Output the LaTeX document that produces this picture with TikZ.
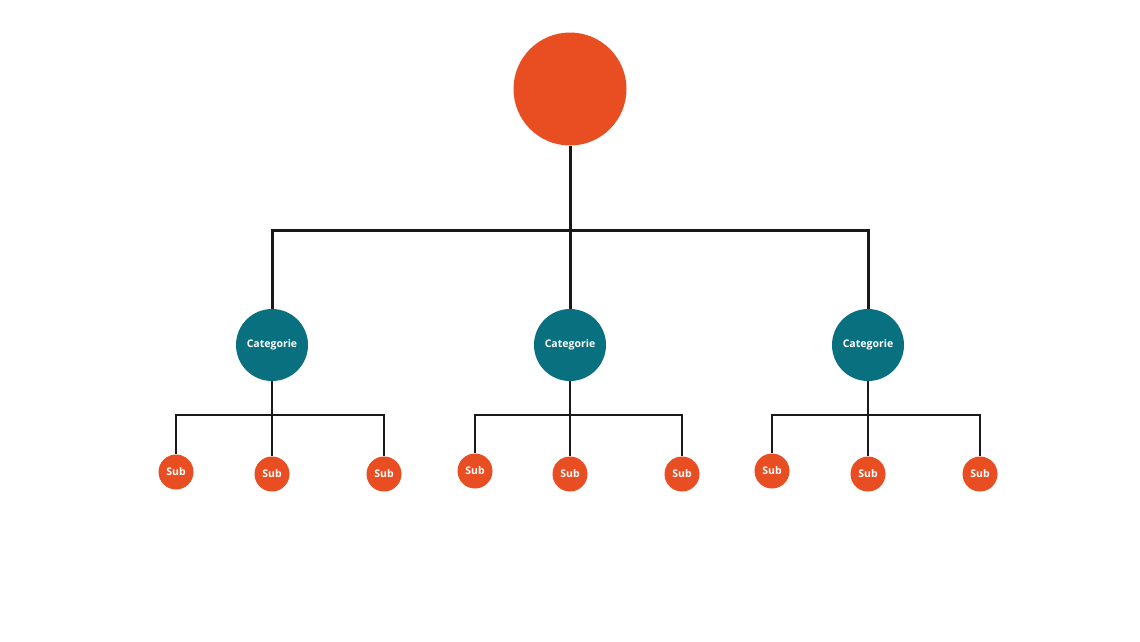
\documentclass[tikz,border=0pt]{standalone}
\usepackage{fontspec}
\setmainfont{Open Sans}
\definecolor{rootorange}{HTML}{E84E22}
\definecolor{catteal}{HTML}{08707F}
\begin{document}
\begin{tikzpicture}[x=1pt,y=-1pt,
  rootnode/.style={circle,fill=rootorange,minimum size=113pt,inner sep=0pt},
  catnode/.style={circle,fill=catteal,minimum size=72pt,inner sep=0pt,text=white,font=\bfseries\fontsize{10.5}{12}\selectfont},
  subnode/.style={circle,fill=rootorange,minimum size=35pt,inner sep=0pt,text=white,font=\bfseries\fontsize{10.5}{12}\selectfont},
  mainline/.style={draw=black!90,line width=3pt},
  subline/.style={draw=black!90,line width=2pt}]
\useasboundingbox (0,0) rectangle (1140,641);
\node[rootnode] (root) at (570,89) {};
\node[catnode] (c1) at (272,345) {Categorie};
\node[catnode] (c2) at (570,345) {Categorie};
\node[catnode] (c3) at (868,345) {Categorie};
\node[subnode] (s11) at (176,472) {Sub};
\node[subnode] (s12) at (272,474) {Sub};
\node[subnode] (s13) at (384,474) {Sub};
\node[subnode] (s21) at (475,471) {Sub};
\node[subnode] (s22) at (570,474) {Sub};
\node[subnode] (s23) at (682,474) {Sub};
\node[subnode] (s31) at (772,471) {Sub};
\node[subnode] (s32) at (868,474) {Sub};
\node[subnode] (s33) at (980,474) {Sub};
\coordinate (j0) at (570,230);
\coordinate (j1) at (272,415);
\coordinate (j2) at (570,415);
\coordinate (j3) at (868,415);
\draw[mainline] (root.south) -- (j0);
\draw[mainline] (j0) -| (c1.north);
\draw[mainline] (j0) -| (c3.north);
\draw[mainline] (j0) -- (c2.north);
\foreach \c/\j in {c1/j1,c2/j2,c3/j3}{\draw[subline] (\c.south) -- (\j);}
\foreach \j/\a/\b/\m in {j1/s11/s13/s12,j2/s21/s23/s22,j3/s31/s33/s32}{
  \draw[subline] (\j) -| (\a.north);
  \draw[subline] (\j) -| (\b.north);
  \draw[subline] (\j) -- (\m.north);
}
\end{tikzpicture}
\end{document}
